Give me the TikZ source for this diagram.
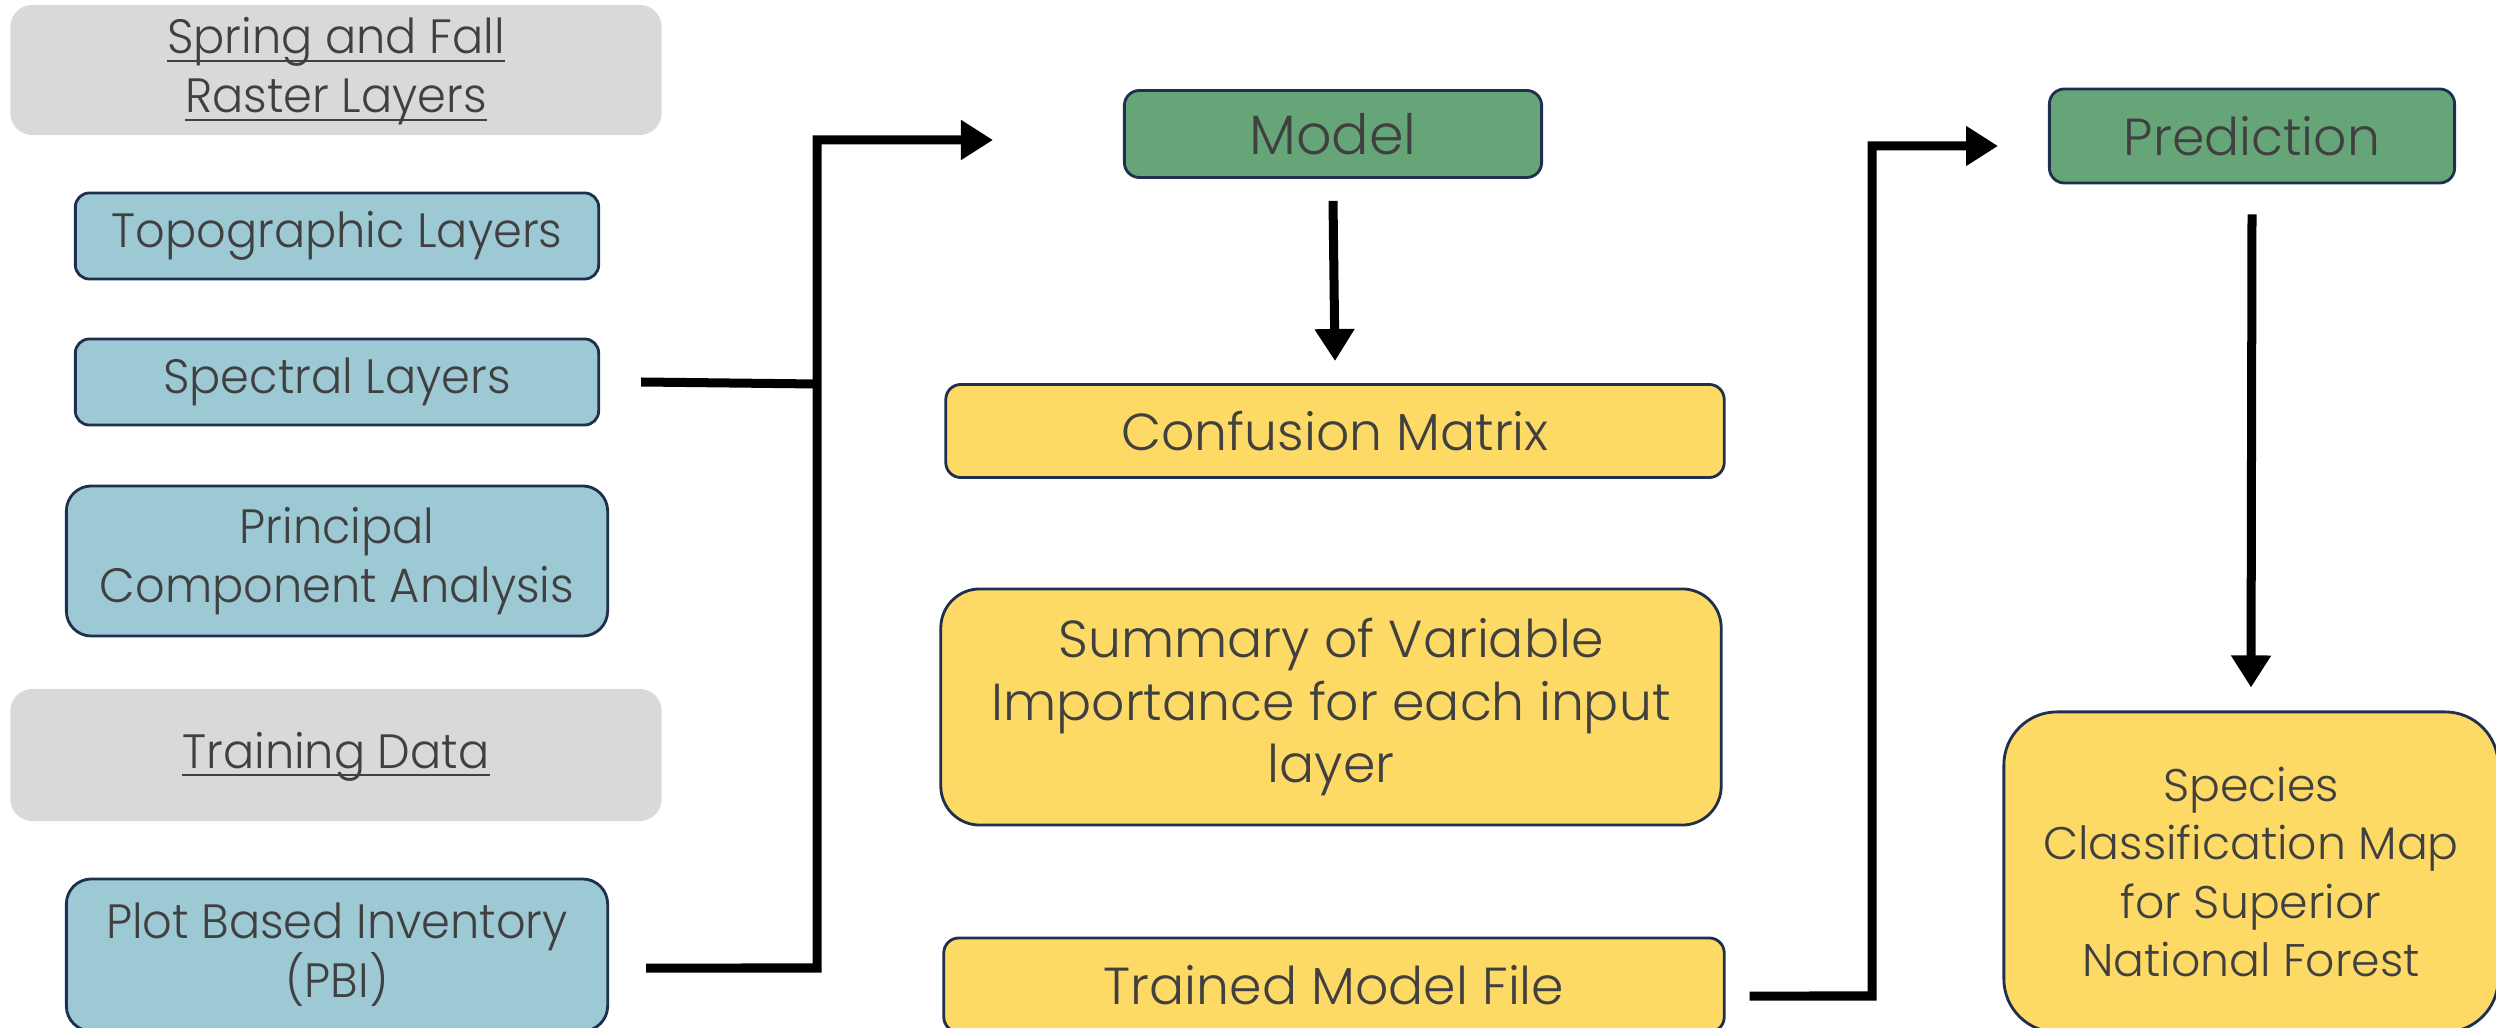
\documentclass[tikz,border=0pt]{standalone}
\usepackage{amsmath}
\usepackage{fontspec}
\setmainfont{Poppins Light}
\newfontfamily\slimfont[FakeStretch=0.96]{Poppins Light}
\usetikzlibrary{arrows.meta}

\definecolor{fillgrey}{HTML}{D9D9D9}
\definecolor{fillblue}{HTML}{9DC9D5}
\definecolor{fillgreen}{HTML}{66A577}
\definecolor{fillgold}{HTML}{FDD966}
\definecolor{edgenavy}{HTML}{1F2F4F}
\definecolor{inktext}{HTML}{404040}

\newcommand{\lineul}[1]{\underline{\smash[b]{#1}}}

\begin{document}
\begin{tikzpicture}[
  x=0.01cm, y=-0.01cm,
  every node/.style={align=center,text=inktext,inner sep=0pt,
    font=\slimfont\fontsize{13.7}{16.8}\selectfont},
  greybox/.style={fill=fillgrey,rounded corners=0.22cm},
  inbox/.style={fill=fillblue,draw=edgenavy,line width=0.8pt},
  stepbox/.style={fill=fillgreen,draw=edgenavy,line width=0.8pt,rounded corners=0.15cm,
    font=\rmfamily\fontsize{14.8}{18}\selectfont},
  outbox/.style={fill=fillgold,draw=edgenavy,line width=0.8pt,
    font=\rmfamily\fontsize{14.8}{17.9}\selectfont},
  widetext/.style={font=\rmfamily\fontsize{13}{16.6}\selectfont},
  flow/.style={line width=0.09cm,line join=miter},
  tip/.style={-{Triangle[length=0.32cm,width=0.38cm]}}
]
  \useasboundingbox (0,0) rectangle (2496,1028);

  \node[greybox,minimum width=6.51cm,minimum height=1.30cm] (spring) at (336,70)
    {\lineul{Spring and Fall}\\\lineul{Raster Layers}};
  \node[inbox,rounded corners=0.14cm,minimum width=5.23cm,minimum height=0.86cm] (topo) at (337,236)
    {Topographic Layers};
  \node[inbox,rounded corners=0.14cm,minimum width=5.23cm,minimum height=0.86cm] (spectral) at (337,382)
    {Spectral Layers};
  \node[inbox,rounded corners=0.25cm,minimum width=5.41cm,minimum height=1.50cm] (pca) at (337,561)
    {Principal\\Component Analysis};
  \node[greybox,minimum width=6.51cm,minimum height=1.32cm] (training) at (336,755)
    {\lineul{Training Data}};
  \node[inbox,rounded corners=0.25cm,minimum width=5.41cm,minimum height=1.52cm] (pbi) at (337,955)
    {Plot Based Inventory\\(PBI)};

  \node[stepbox,font=\rmfamily\fontsize{15.8}{18}\selectfont,minimum width=4.17cm,minimum height=0.87cm] (model) at (1333,134) {Model};
  \node[outbox,rounded corners=0.15cm,minimum width=7.78cm,minimum height=0.93cm] (confusion) at (1335,431)
    {Confusion Matrix};
  \node[outbox,rounded corners=0.39cm,minimum width=7.80cm,minimum height=2.36cm] (summary) at (1331,707)
    {Summary of Variable\\Importance for each input\\layer};
  \node[outbox,rounded corners=0.15cm,minimum width=7.80cm,minimum height=0.94cm] (trained) at (1334,985)
    {Trained Model File};

  \node[stepbox,minimum width=4.05cm,minimum height=0.94cm] (prediction) at (2252,136) {Prediction};
  \node[outbox,widetext,rounded corners=0.53cm,minimum width=4.94cm,minimum height=3.20cm] (species) at (2251,872)
    {Species\\Classification Map\\for Superior\\National Forest};

  \coordinate (joinMid) at (817,384);
  \coordinate (joinLow) at (817,968);
  \coordinate (modelIn) at (993,140);
  \coordinate (turnLow) at (1872,996);
  \coordinate (predIn) at (1998,146);

  \draw[flow] ([xshift=0.41cm]spectral.east) -- (joinMid);
  \draw[flow,tip] ([xshift=0.37cm,yshift=-0.13cm]pbi.east) -- (joinLow) |- (modelIn);
  \draw[flow,tip] ([yshift=-0.22cm]model.south) -- ([yshift=0.22cm]confusion.north);
  \draw[flow,tip] ([xshift=0.24cm,yshift=-0.11cm]trained.east) -- (turnLow) |- (predIn);
  \draw[flow,tip] ([yshift=-0.30cm]prediction.south) -- ([yshift=0.23cm]species.north);
\end{tikzpicture}
\end{document}
